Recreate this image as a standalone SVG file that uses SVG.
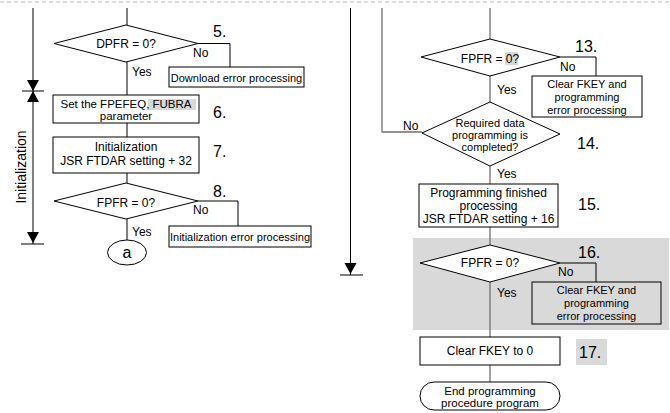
<svg xmlns="http://www.w3.org/2000/svg" width="670" height="413" viewBox="0 0 670 413">
<style>
text{font-family:"Liberation Sans",Arial,sans-serif;fill:#000}
.t{font-size:12px;text-anchor:middle}
.t2{font-size:11.5px;text-anchor:middle}
.s{font-size:11px;text-anchor:middle}
.n{font-size:16px}
.l{font-size:12px}
.sh{fill:#fff;stroke:#000;stroke-width:1}
.c{fill:none;stroke:#000;stroke-width:1}
.g{fill:none;stroke:#707070;stroke-width:1.3}
</style>
<defs>
<polygon id="down" points="-6,-11 6,-11 0,0" fill="#000"/>
</defs>
<line x1="0" y1="2" x2="670" y2="2" stroke="#b8b8b8" stroke-width="1" stroke-dasharray="4,3"/>
<rect x="413" y="238" width="256" height="92" fill="#d9d9d9"/>
<g id="connectors">
<line class="c" x1="33" y1="8" x2="33" y2="244"/>
<use href="#down" x="33" y="91"/>
<use href="#down" transform="translate(33,91) scale(1,-1)"/>
<line class="c" x1="22" y1="91" x2="44" y2="91"/>
<use href="#down" x="33" y="243"/>
<line class="c" x1="21" y1="244" x2="44" y2="244"/>
<line class="c" x1="127" y1="8" x2="127" y2="25"/>
<polyline class="c" points="198,43.5 230,43.5 230,67"/>
<line class="c" x1="127" y1="62" x2="127" y2="95"/>
<line class="c" x1="127" y1="123" x2="127" y2="137"/>
<line class="c" x1="127" y1="173" x2="127" y2="183"/>
<polyline class="c" points="198,201 238,201 238,226"/>
<line class="c" x1="127" y1="219" x2="127" y2="240"/>
<line class="c" x1="350.5" y1="8" x2="350.5" y2="275"/>
<use href="#down" x="350.5" y="274"/>
<line class="c" x1="340" y1="275" x2="363" y2="275"/>
<polyline class="g" points="382,8 382,132 422,132"/>
<line class="g" x1="490" y1="8" x2="490" y2="39"/>
<polyline class="c" points="560,57 596,57 596,76"/>
<line class="g" x1="490" y1="76" x2="490" y2="102"/>
<line class="g" x1="490" y1="166" x2="490" y2="184"/>
<line class="g" x1="490" y1="227" x2="490" y2="245"/>
<polyline class="c" points="560,263 596,263 596,282"/>
<line class="g" x1="490" y1="282" x2="490" y2="337"/>
<line class="g" x1="490" y1="365" x2="490" y2="382"/>
</g>
<text x="0" y="0" style="font-size:14px;text-anchor:middle" transform="translate(26,167) rotate(-90)">Initialization</text>
<g id="n5">
<polygon class="sh" points="126,25 198,43.5 126,62 54,43.5"/>
<text class="t" x="126" y="48">DPFR = 0?</text>
<text class="n" x="213" y="37">5.</text>
<text class="l" x="193" y="57">No</text>
<text class="l" x="132" y="76">Yes</text>
</g>
<g id="n5e">
<rect class="sh" x="169" y="67" width="135" height="20"/>
<text class="s" x="236.5" y="81.5">Download error processing</text>
</g>
<g id="n6">
<rect class="sh" x="53" y="95" width="146" height="28"/>
<rect x="148" y="99" width="48" height="11" fill="#d9d9d9"/>
<text class="t2" x="126" y="107.5">Set the FPEFEQ, FUBRA</text>
<text class="t2" x="126" y="120">parameter</text>
<text class="n" x="213" y="118">6.</text>
</g>
<g id="n7">
<rect class="sh" x="53" y="137" width="146" height="36"/>
<text class="t" x="126" y="151">Initialization</text>
<text class="t" x="126" y="165">JSR FTDAR setting + 32</text>
<text class="n" x="213" y="157">7.</text>
</g>
<g id="n8">
<polygon class="sh" points="126,183 198,201 126,219 54,201"/>
<text class="t" x="126" y="207">FPFR = 0?</text>
<text class="n" x="213" y="197">8.</text>
<text class="l" x="193" y="214">No</text>
<text class="l" x="132" y="236">Yes</text>
</g>
<g id="n8e">
<rect class="sh" x="169" y="226" width="142" height="21"/>
<text class="s" x="240" y="241">Initialization error processing</text>
</g>
<g id="na">
<ellipse class="sh" cx="127" cy="252.5" rx="19.5" ry="12.5"/>
<text x="127" y="258" style="font-size:16px;text-anchor:middle">a</text>
</g>
<g id="n13">
<polygon class="sh" points="490,39 560,57 490,76 421,57"/>
<rect x="505" y="52" width="13" height="13" fill="#d9d9d9"/>
<text class="t" x="490" y="63">FPFR = 0?</text>
<text class="n" x="575" y="52">13.</text>
<text class="l" x="560" y="71">No</text>
<text class="l" x="497" y="94">Yes</text>
</g>
<g id="n13e">
<rect class="sh" x="532" y="76" width="110" height="41"/>
<text class="s" x="587" y="88">Clear FKEY and</text>
<text class="s" x="587" y="101">programming</text>
<text class="s" x="587" y="114">error processing</text>
</g>
<g id="n14">
<polygon class="sh" points="490,102 560,134 490,166 422,133"/>
<text class="s" x="490" y="127">Required data</text>
<text class="s" x="490" y="139">programming is</text>
<text class="s" x="490" y="151">completed?</text>
<text class="n" x="577" y="149">14.</text>
<text class="l" x="403" y="130">No</text>
<text class="l" x="497" y="178">Yes</text>
</g>
<g id="n15">
<rect class="sh" x="419" y="184" width="139" height="43"/>
<text class="t" x="488.5" y="197">Programming finished</text>
<text class="t" x="488.5" y="210">processing</text>
<text class="t" x="488.5" y="223">JSR FTDAR setting + 16</text>
<text class="n" x="578" y="210">15.</text>
</g>
<g id="n16">
<polygon class="sh" points="490,245 560,263 490,282 420,263"/>
<text class="t" x="490" y="267">FPFR = 0?</text>
<text class="n" x="578" y="258">16.</text>
<text class="l" x="558" y="276">No</text>
<text class="l" x="497" y="297">Yes</text>
</g>
<g id="n16e">
<rect x="532" y="282" width="129" height="42" fill="#d9d9d9" stroke="#000"/>
<text class="s" x="596.5" y="294">Clear FKEY and</text>
<text class="s" x="596.5" y="307">programming</text>
<text class="s" x="596.5" y="320">error processing</text>
</g>
<g id="n17">
<rect class="sh" x="420" y="337" width="140" height="28"/>
<text class="t" x="490" y="355">Clear FKEY to 0</text>
<rect x="576" y="339" width="31" height="26" fill="#d9d9d9"/>
<text class="n" x="579" y="358">17.</text>
</g>
<g id="nend">
<rect class="sh" x="420" y="382" width="140" height="28" rx="14" ry="14"/>
<text class="t2" x="490" y="394.5">End programming</text>
<text class="t2" x="490" y="407">procedure program</text>
</g>
</svg>
